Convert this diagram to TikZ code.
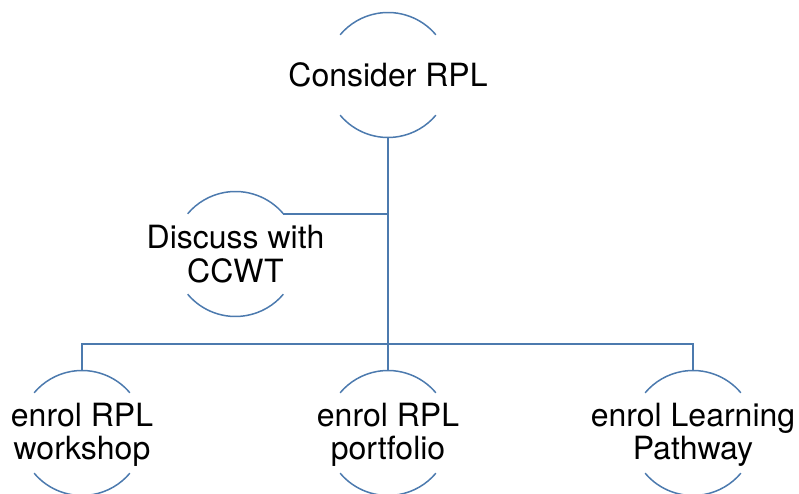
\documentclass[tikz,border=0pt]{standalone}
\usepackage{fontspec}
\setmainfont{TeX Gyre Heros}
\definecolor{linkblue}{RGB}{76,122,174}
\begin{document}
\begin{tikzpicture}[x=1pt,y=1pt,
  bubble/.style={circle, minimum size=125pt, inner sep=0pt, outer sep=0pt},
  caption/.style={inner sep=0pt, align=center, font=\fontsize{32}{33.5}\selectfont},
  link/.style={draw=linkblue, line width=1.5pt},
  rim/.style={draw=linkblue, line width=1.5pt}]
\useasboundingbox (0,0) rectangle (799,494);

% bubbles
\node[bubble] (consider)  at (388,419)   {};
\node[bubble] (discuss)   at (235.5,240) {};
\node[bubble] (workshop)  at (82,61)     {};
\node[bubble] (portfolio) at (388,61)    {};
\node[bubble] (pathway)   at (693,61)    {};

% upper and lower rims of each bubble
\foreach \n in {consider,discuss,workshop,portfolio,pathway}{
  \draw[rim] (\n.40) arc[start angle=40, end angle=140, radius=62.5pt];
  \draw[rim] (\n.220) arc[start angle=220, end angle=320, radius=62.5pt];
}

% captions
\node[caption] (consider-t)  at (consider)  {Consider RPL};
\node[caption] (discuss-t)   at (discuss)   {Discuss with\\CCWT};
\node[caption] (workshop-t)  at ([yshift=-2pt]workshop.center)  {enrol RPL\\workshop};
\node[caption] (portfolio-t) at ([yshift=-2pt]portfolio.center) {enrol RPL\\portfolio};
\node[caption] (pathway-t)   at ([yshift=-2pt]pathway.center)   {enrol Learning\\Pathway};

% connectors
\coordinate (bar) at (388,150);
\draw[link] (consider.south) -- (bar);
\draw[link] (discuss.40) -- (discuss.40 -| bar);
\draw[link] (workshop.north) |- (bar) -| (pathway.north);
\draw[link] (portfolio.north) -- (bar);
\end{tikzpicture}
\end{document}
